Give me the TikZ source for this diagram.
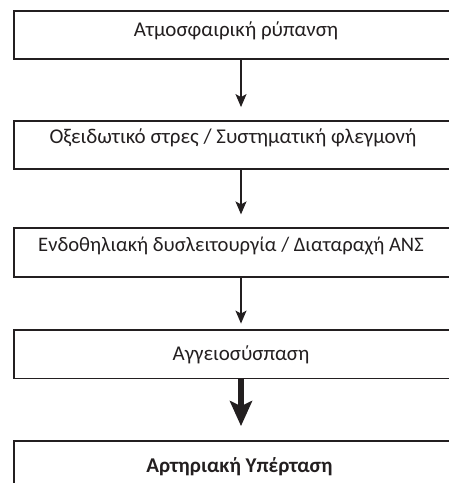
\documentclass[tikz,border=0pt]{standalone}
\usepackage{fontspec}
\setmainfont{Carlito}
\usetikzlibrary{arrows.meta}
\definecolor{ink}{HTML}{231F20}
\begin{document}
\begin{tikzpicture}[x=1pt,y=1pt,
  box/.style={draw=ink,line width=1.8pt,rectangle,inner sep=0pt,minimum width=446pt},
  lbl/.style={anchor=base,inner sep=0pt,text=ink,font=\fontsize{21}{24}\selectfont},
  arr/.style={draw=ink,line width=1.3pt,-{Stealth[length=13pt,width=11pt,inset=3pt]}},
  bigarr/.style={draw=ink,line width=5.6pt,-{Stealth[length=25pt,width=22pt,inset=5pt]}}]
\clip (0,0) rectangle (449,483);
% boxes (y = 483 - image row)
\node[box,minimum height=47.7pt] (b1) at (237,448.15) {};
\node[box,minimum height=48.3pt] (b2) at (237,337.85) {};
\node[box,minimum height=48.4pt] (b3) at (237,230.5) {};
\node[box,minimum height=48.5pt] (b4) at (237,128.75) {};
\node[box,minimum height=48pt] (b5) at (237,18) {};
% texts
\node[lbl] (t1) at (236,446.3) {Ατμοσφαιρική ρύπανση};
\node[lbl] (t2) at (233,339.7) {Οξειδωτικό στρες / Συστηματική φλεγμονή};
\node[lbl,font=\fontsize{20.6}{24}\selectfont] (t3) at (231,231.3) {Ενδοθηλιακή δυσλειτουργία / Διαταραχή ΑΝΣ};
\node[lbl] (t4) at (241,122) {Αγγειοσύσπαση};
\node[lbl,font=\fontsize{21}{24}\selectfont\bfseries] (t5) at (239.5,10.3) {Αρτηριακή Υπέρταση};
% connectors
\coordinate (ax) at (241,0);
\draw[arr,shorten >=13pt] (b1.south -| ax) -- (b2.north -| ax);
\draw[arr,shorten >=13pt] (b2.south -| ax) -- (b3.north -| ax);
\draw[arr,shorten >=5.5pt] (b3.south -| ax) -- (b4.north -| ax);
\draw[bigarr,shorten >=14pt] (b4.south -| ax) -- (b5.north -| ax);
\end{tikzpicture}
\end{document}
